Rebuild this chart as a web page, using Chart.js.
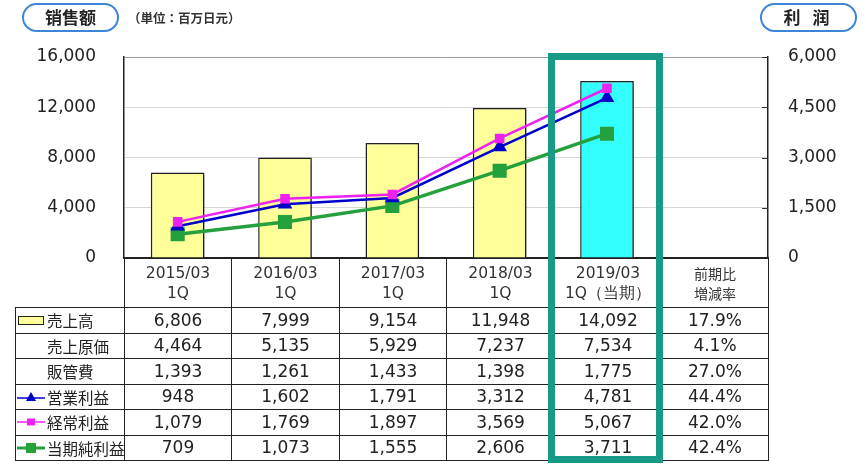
<!DOCTYPE html>
<html>
<head>
<meta charset="utf-8">
<script src="https://cdn.jsdelivr.net/npm/chart.js@4"></script>
<style>
  body { margin: 0; background: #fff; }
  #wrap { position: relative; width: 866px; height: 467px; background: #fff; overflow: hidden; }
  #chartBox { position: absolute; left: 0; top: 0; width: 866px; height: 467px; }
  .pill {
    position: absolute; top: 3px; height: 29px; width: 97px; box-sizing: border-box;
    border: 2.5px solid #3d85d6; border-radius: 15px; background: #fff;
    font: bold 17px "Noto Sans CJK SC"; color: #222; text-align: center; line-height: 23px;
  }
  .unit { position: absolute; left: 128px; top: 8px; font: bold 12.5px "Noto Sans CJK JP"; color: #333; }
  #tbl { position: absolute; left: 15px; top: 258px; width: 753px; border-collapse: collapse; table-layout: fixed; }
  #tbl td { border: 1px solid #222; padding: 0; text-align: center; font: 17px "DejaVu Sans"; color: #222; line-height: 1; }
  #tbl tr { height: 25.5px; }
  #tbl tr.head { height: 49px; }
  #tbl tr.head td { font: 15.5px "DejaVu Sans"; line-height: 20px; color: #333; }
  #tbl tr.head td.cjk { font: 14px "Noto Sans CJK JP"; line-height: 20px; }
  #tbl tr.head td.blank { border-left: none; border-top: none; }
  #tbl td.label { text-align: left; font: 15.5px "Noto Sans CJK JP"; white-space: nowrap; padding-left: 31px; position: relative; }
  #tbl td.label svg { position: absolute; left: 1px; top: 50%; margin-top: -6px; }
  .focus { position: absolute; left: 548px; top: 53px; width: 115px; height: 410px; box-sizing: border-box; border: 7px solid #179b87; }
</style>
</head>
<body>
<div id="wrap">
  <div id="chartBox"><canvas id="canvas"></canvas></div>
  <div class="pill" style="left:22px">销售额</div>
  <div class="unit">（単位：百万日元）</div>
  <div class="pill" style="left:760px;letter-spacing:4px">利 润</div>
  <table id="tbl"></table>
  <div class="focus"></div>
</div>
<script>
const periods = ['2015/03', '2016/03', '2017/03', '2018/03', '2019/03']
const quarters = ['1Q', '1Q', '1Q', '1Q', '1Q（当期）']
const sales = [6806, 7999, 9154, 11948, 14092]
const costOfSales = [4464, 5135, 5929, 7237, 7534]
const sga = [1393, 1261, 1433, 1398, 1775]
const operatingProfit = [948, 1602, 1791, 3312, 4781]
const ordinaryProfit = [1079, 1769, 1897, 3569, 5067]
const netProfit = [709, 1073, 1555, 2606, 3711]
const changeRates = ['17.9%', '4.1%', '27.0%', '44.4%', '42.0%', '42.4%']

// last column is the "前期比 増減率" column: no bar there
const labels = periods.map((p, i) => p + ' ' + quarters[i]).concat(['前期比増減率'])
const pad = arr => arr.concat([null])

const barColors = ['#ffff99', '#ffff99', '#ffff99', '#ffff99', '#33ffff', '#ffff99']

const barShadow = {
  id: 'barShadow',
  beforeDatasetDraw(chart, args) {
    if (args.meta.type !== 'bar') return
    const c = chart.ctx
    c.save()
    c.shadowColor = 'rgba(0,0,0,0.3)'
    c.shadowOffsetX = 3
    c.shadowOffsetY = 2
    c.shadowBlur = 3
  },
  afterDatasetDraw(chart, args) {
    if (args.meta.type === 'bar') chart.ctx.restore()
  }
}

// short tick marks inside the plot on the right axis
const innerTicks = {
  id: 'innerTicks',
  afterDraw(chart) {
    const s = chart.scales.y1
    const c = chart.ctx
    c.save()
    c.strokeStyle = '#333'
    c.lineWidth = 1
    s.ticks.forEach(t => {
      const y = Math.round(s.getPixelForValue(t.value)) + 0.5
      c.beginPath()
      c.moveTo(s.left - 6, y)
      c.lineTo(s.left, y)
      c.stroke()
    })
    c.restore()
  }
}

const ctx = document.querySelector('#canvas').getContext('2d')

const config = {
  type: 'bar',
  data: {
    labels: labels,
    datasets: [
      {
        type: 'line',
        label: '経常利益',
        data: pad(ordinaryProfit),
        yAxisID: 'y1',
        borderColor: '#ee22ee',
        backgroundColor: '#ee22ee',
        borderWidth: 2.5,
        pointStyle: 'rect',
        pointRadius: 5,
        order: 0
      },
      {
        type: 'line',
        label: '営業利益',
        data: pad(operatingProfit),
        yAxisID: 'y1',
        borderColor: '#0000cc',
        backgroundColor: '#0000cc',
        borderWidth: 2.5,
        pointStyle: 'triangle',
        pointRadius: 6,
        order: 1
      },
      {
        type: 'line',
        label: '当期純利益',
        data: pad(netProfit),
        yAxisID: 'y1',
        borderColor: '#24a03c',
        backgroundColor: '#24a03c',
        borderWidth: 3.5,
        pointStyle: 'rect',
        pointRadius: 7.5,
        order: 2
      },
      {
        label: '売上高',
        data: pad(sales),
        yAxisID: 'y',
        backgroundColor: barColors,
        borderColor: '#222',
        borderWidth: 1.5,
        barPercentage: 0.5,
        categoryPercentage: 1,
        order: 3
      }
    ]
  },
  options: {
    responsive: true,
    maintainAspectRatio: false,
    animation: false,
    layout: { padding: { left: 0, right: 0, top: 57, bottom: 209 } },
    plugins: {
      legend: { display: false },
      tooltip: { enabled: false }
    },
    scales: {
      x: {
        ticks: { display: false },
        grid: { display: false },
        border: { display: true, color: '#222', width: 1.5 },
        afterFit: s => { s.height = 0 }
      },
      y: {
        position: 'left',
        min: 0,
        max: 16000,
        ticks: { stepSize: 4000, padding: 28, color: '#222', font: { family: 'DejaVu Sans', size: 17 } },
        grid: {
          drawTicks: false,
          color: c => c.tick.value === 16000 ? '#999' : '#d6d6d6'
        },
        border: { color: '#222', width: 1.5 },
        afterFit: s => { s.width = 124 }
      },
      y1: {
        position: 'right',
        min: 0,
        max: 6000,
        ticks: { stepSize: 1500, padding: 20, color: '#222', font: { family: 'DejaVu Sans', size: 17 } },
        grid: { display: false, drawTicks: false },
        border: { color: '#222', width: 1.5 },
        afterFit: s => { s.width = 98 }
      }
    }
  },
  plugins: [barShadow, innerTicks]
}

const myChart = new Chart(ctx, config)

// data table under the chart
const icon = {
  bar: '<svg width="28" height="12"><rect x="1.5" y="2.5" width="25" height="8" fill="#ffff99" stroke="#222"/></svg>',
  tri: '<svg width="28" height="12"><line x1="0" y1="7" x2="28" y2="7" stroke="#0000cc" stroke-width="1.5"/><polygon points="14,1 19,10 9,10" fill="#0000cc"/></svg>',
  sq: '<svg width="28" height="12"><line x1="0" y1="6" x2="28" y2="6" stroke="#ee22ee" stroke-width="1.5"/><rect x="10" y="2.5" width="8" height="7" fill="#ee22ee"/></svg>',
  big: '<svg width="28" height="12"><line x1="0" y1="6" x2="28" y2="6" stroke="#24a03c" stroke-width="3"/><rect x="9" y="1" width="10" height="10" fill="#24a03c"/></svg>',
  none: ''
}
const rows = [
  ['売上高', icon.bar, sales],
  ['売上原価', icon.none, costOfSales],
  ['販管費', icon.none, sga],
  ['営業利益', icon.tri, operatingProfit],
  ['経常利益', icon.sq, ordinaryProfit],
  ['当期純利益', icon.big, netProfit]
]
const widths = [109, 107, 108, 107, 108, 107, 107]
let html = '<colgroup>' + widths.map(w => '<col style="width:' + w + 'px">').join('') + '</colgroup>'
html += '<tr class="head"><td class="blank"></td>'
periods.forEach((p, i) => { html += '<td>' + p + '<br>' + quarters[i] + '</td>' })
html += '<td class="cjk">前期比<br>増減率</td></tr>'
rows.forEach((r, ri) => {
  html += '<tr><td class="label">' + r[1] + r[0] + '</td>'
  r[2].forEach(v => { html += '<td>' + v.toLocaleString('en-US') + '</td>' })
  html += '<td>' + changeRates[ri] + '</td></tr>'
})
document.querySelector('#tbl').innerHTML = html
</script>
</body>
</html>
